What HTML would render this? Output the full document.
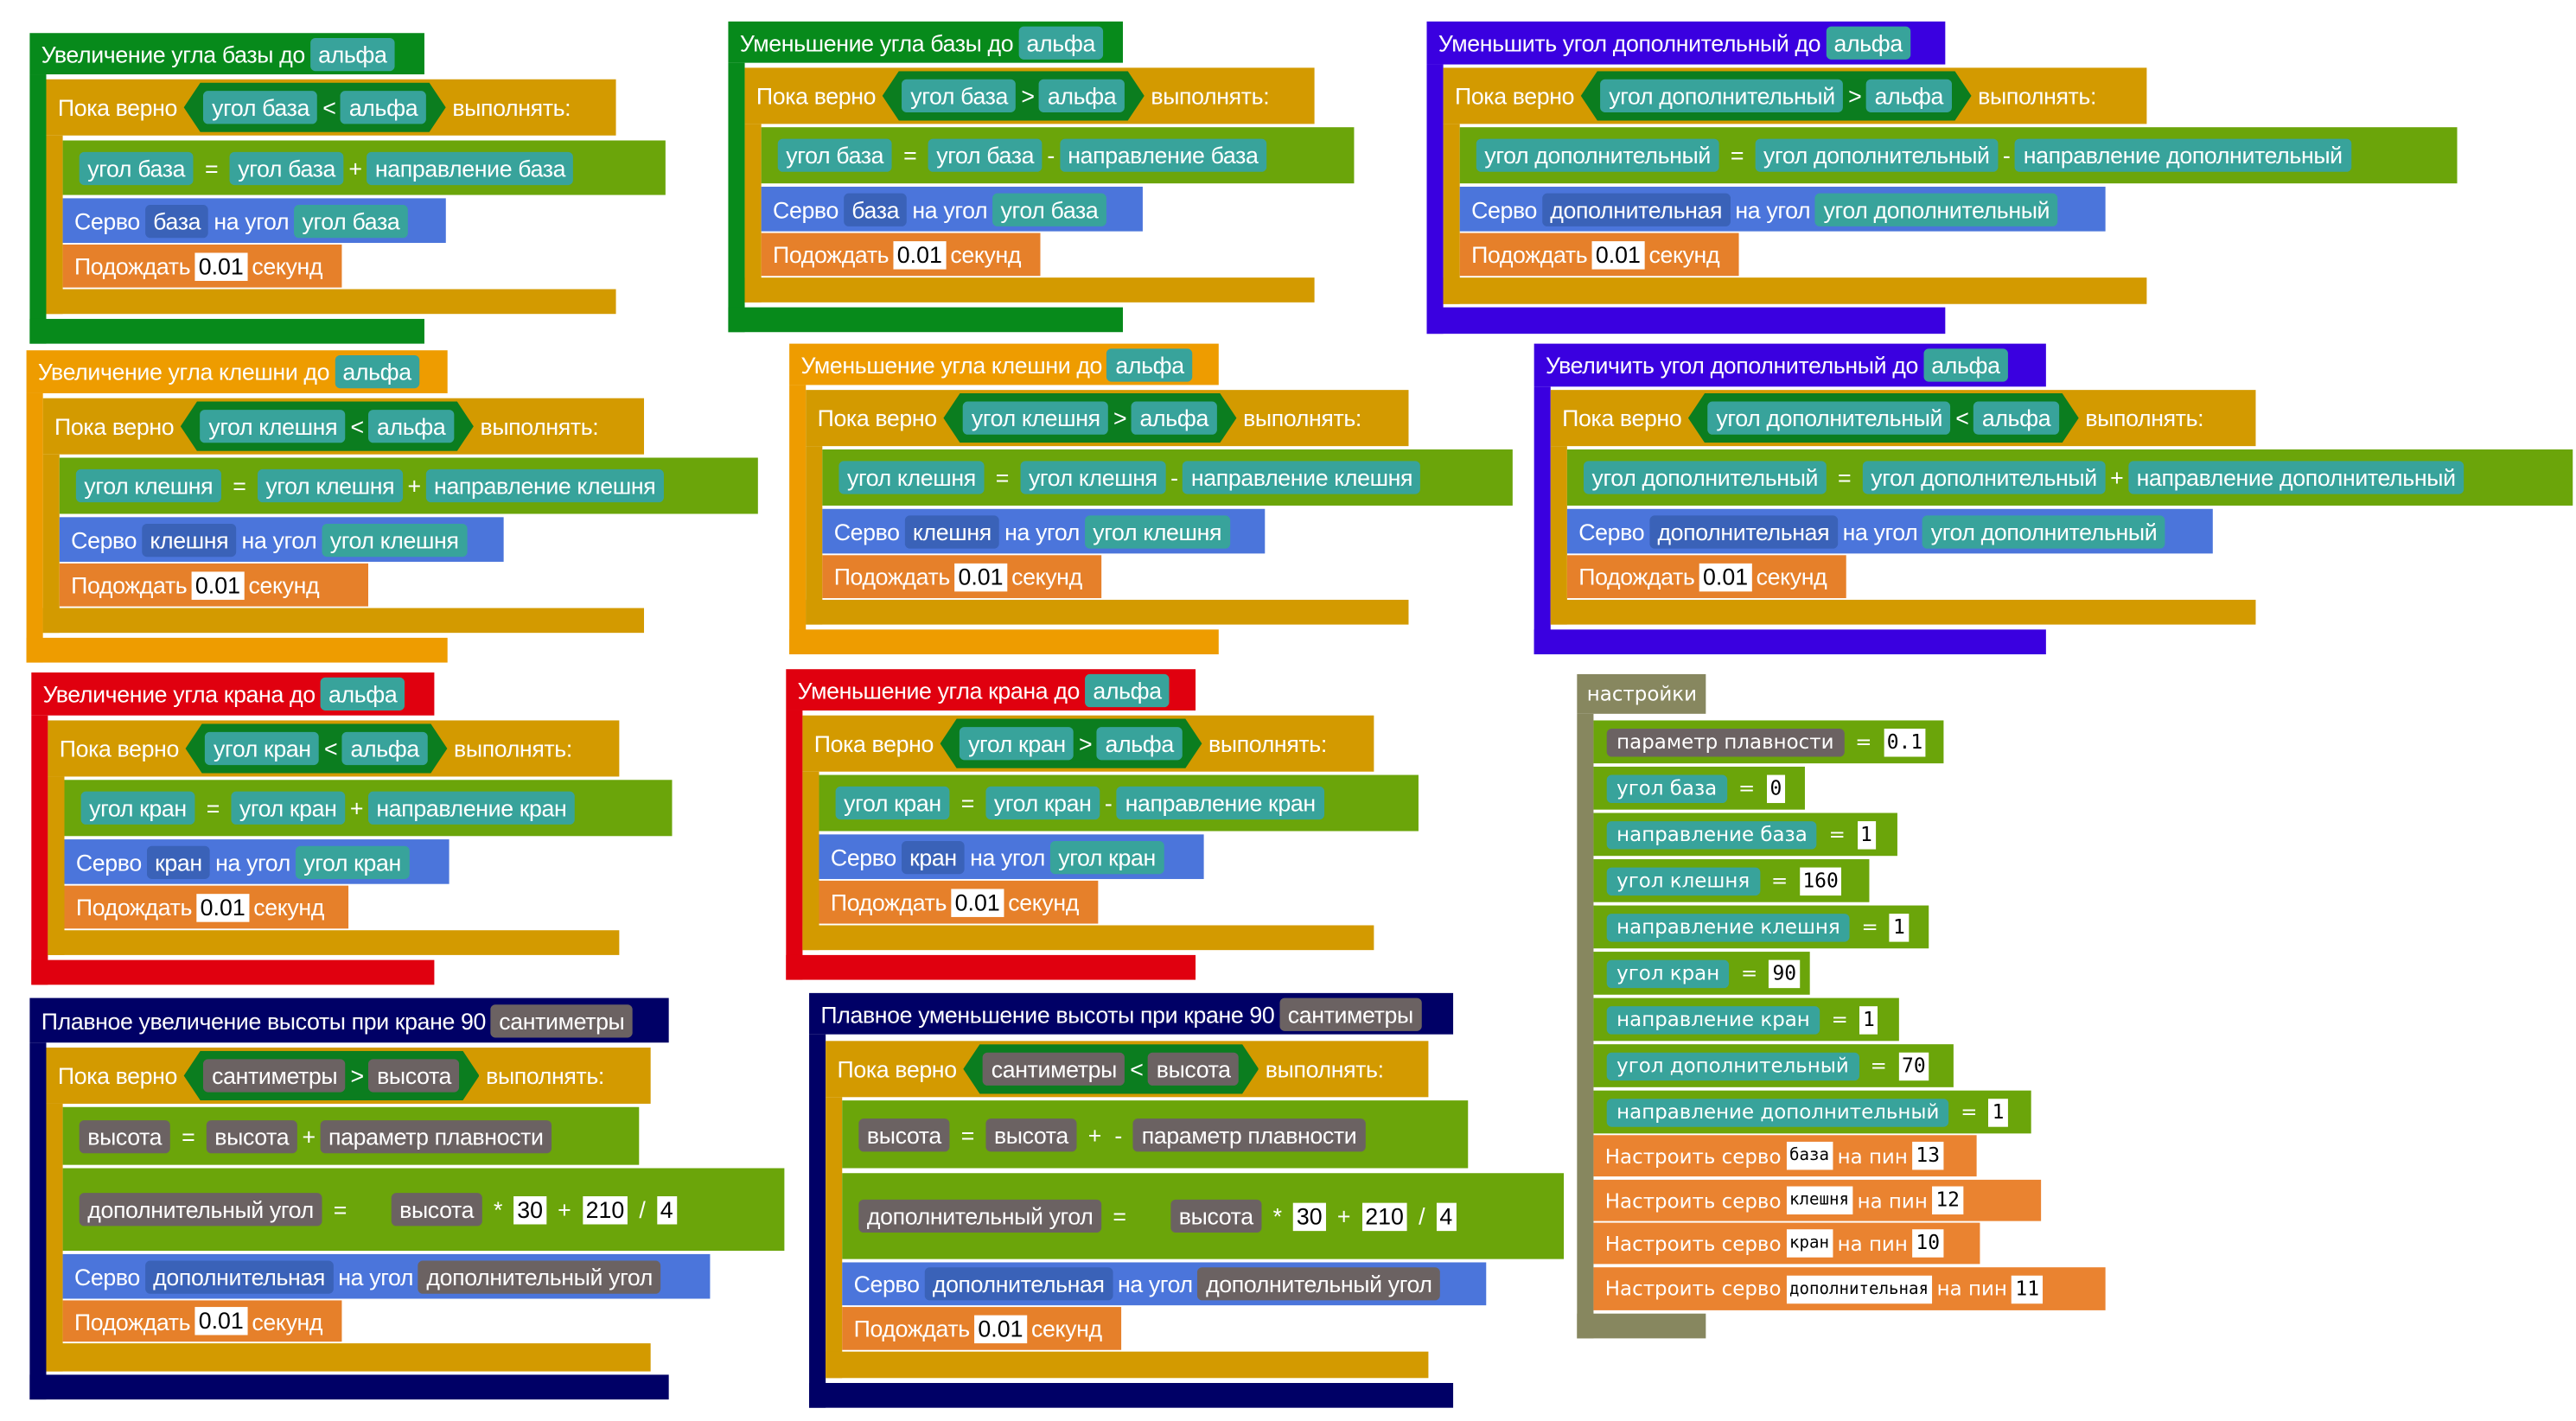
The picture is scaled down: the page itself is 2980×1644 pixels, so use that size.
<!DOCTYPE html>
<html><head><meta charset="utf-8"><style>
html,body{margin:0;padding:0;background:#fff;}
body{width:2980px;height:1644px;overflow:hidden;position:relative;}
#w{position:absolute;left:0;top:0;width:1560px;height:860px;transform:scale(1.9103,1.9116);transform-origin:0 0;}
.r{position:absolute;}
.b{position:absolute;display:flex;align-items:center;color:#fff;font:14px "Liberation Sans",sans-serif;letter-spacing:-0.2px;white-space:nowrap;padding-left:7px;box-sizing:border-box;}
.c{display:inline-block;height:20px;line-height:20px;padding:0 5px;border-radius:3px;margin:0 3px;}
.t{background:#38a39b}.g{background:#6b6262}.sb{background:#3a62b8}
.v{display:inline-block;background:#fff;color:#000;height:17px;line-height:17px;padding:0 2px;margin:0 3px;letter-spacing:0;}
.hex{display:flex;align-items:center;background:#0b7d1f;height:30px;padding:0 9px;margin:0 4px;clip-path:polygon(10px 0,calc(100% - 10px) 0,100% 50%,calc(100% - 10px) 100%,10px 100%,0 50%);}
.o{margin:0 4px}
.hg{background:#078a1b}.ho{background:#ee9c00}.hr{background:#e0000f}.hn{background:#000066}.hp{background:#3a00e0}
.L{background:#d39a00}.S{background:#6ba50a}.B{background:#4b75db}.W{background:#e6802a}
.st .b{font:12px "DejaVu Sans",sans-serif;letter-spacing:0;}
.st .c{height:17px;line-height:17px;padding:0 6px;}
.st .v{font-family:"DejaVu Sans Mono",monospace;font-size:12px;}
.st .v.s{font-size:10px;}
</style></head><body><div id="w">

<!-- B1 -->
<div class="r hg" style="left:18px;top:45px;width:10px;height:163px"></div>
<div class="r hg" style="left:18px;top:193px;width:239px;height:15px"></div>
<div class="b hg" style="left:18px;top:20px;width:239px;height:25px">Увеличение угла базы до<span class="c t">альфа</span></div>
<div class="r L" style="left:28px;top:82px;width:10px;height:108px"></div>
<div class="r L" style="left:28px;top:175px;width:345px;height:15px"></div>
<div class="b L" style="left:28px;top:48px;width:345px;height:34px">Пока верно<span class="hex"><span class="c t">угол база</span>&lt;<span class="c t">альфа</span></span>выполнять:</div>
<div class="b S" style="left:38px;top:85px;width:365px;height:33px"><span class="c t">угол база</span><span class="o">=</span><span class="c t">угол база</span>+<span class="c t">направление база</span></div>
<div class="b B" style="left:38px;top:120px;width:232px;height:27px">Серво<span class="c sb">база</span>на угол<span class="c t">угол база</span></div>
<div class="b W" style="left:38px;top:148px;width:169px;height:26px">Подождать<span class="v">0.01</span>секунд</div>

<!-- B2 -->
<div class="r ho" style="left:16px;top:238px;width:10px;height:163px"></div>
<div class="r ho" style="left:16px;top:386px;width:255px;height:15px"></div>
<div class="b ho" style="left:16px;top:212px;width:255px;height:26px">Увеличение угла клешни до<span class="c t">альфа</span></div>
<div class="r L" style="left:26px;top:275px;width:10px;height:108px"></div>
<div class="r L" style="left:26px;top:368px;width:364px;height:15px"></div>
<div class="b L" style="left:26px;top:241px;width:364px;height:34px">Пока верно<span class="hex"><span class="c t">угол клешня</span>&lt;<span class="c t">альфа</span></span>выполнять:</div>
<div class="b S" style="left:36px;top:277px;width:423px;height:34px"><span class="c t">угол клешня</span><span class="o">=</span><span class="c t">угол клешня</span>+<span class="c t">направление клешня</span></div>
<div class="b B" style="left:36px;top:313px;width:269px;height:27px">Серво<span class="c sb">клешня</span>на угол<span class="c t">угол клешня</span></div>
<div class="b W" style="left:36px;top:341px;width:187px;height:26px">Подождать<span class="v">0.01</span>секунд</div>

<!-- B3 -->
<div class="r hr" style="left:19px;top:433px;width:10px;height:163px"></div>
<div class="r hr" style="left:19px;top:581px;width:244px;height:15px"></div>
<div class="b hr" style="left:19px;top:407px;width:244px;height:26px">Увеличение угла крана до<span class="c t">альфа</span></div>
<div class="r L" style="left:29px;top:470px;width:10px;height:108px"></div>
<div class="r L" style="left:29px;top:563px;width:346px;height:15px"></div>
<div class="b L" style="left:29px;top:436px;width:346px;height:34px">Пока верно<span class="hex"><span class="c t">угол кран</span>&lt;<span class="c t">альфа</span></span>выполнять:</div>
<div class="b S" style="left:39px;top:472px;width:368px;height:34px"><span class="c t">угол кран</span><span class="o">=</span><span class="c t">угол кран</span>+<span class="c t">направление кран</span></div>
<div class="b B" style="left:39px;top:508px;width:233px;height:27px">Серво<span class="c sb">кран</span>на угол<span class="c t">угол кран</span></div>
<div class="b W" style="left:39px;top:536px;width:172px;height:26px">Подождать<span class="v">0.01</span>секунд</div>

<!-- B4 -->
<div class="r hn" style="left:18px;top:631px;width:10px;height:216px"></div>
<div class="r hn" style="left:18px;top:832px;width:387px;height:15px"></div>
<div class="b hn" style="left:18px;top:604px;width:387px;height:27px">Плавное увеличение высоты при кране 90<span class="c g">сантиметры</span></div>
<div class="r L" style="left:28px;top:668px;width:10px;height:162px"></div>
<div class="r L" style="left:28px;top:813px;width:366px;height:17px"></div>
<div class="b L" style="left:28px;top:634px;width:366px;height:34px">Пока верно<span class="hex"><span class="c g">сантиметры</span>&gt;<span class="c g">высота</span></span>выполнять:</div>
<div class="b S" style="left:38px;top:670px;width:349px;height:35px"><span class="c g">высота</span><span class="o">=</span><span class="c g">высота</span>+<span class="c g">параметр плавности</span></div>
<div class="b S" style="left:38px;top:707px;width:437px;height:50px"><span class="c g">дополнительный угол</span><span class="o">=</span><span style="width:20px"></span><span class="c g">высота</span><span class="o">*</span><span class="v">30</span><span class="o">+</span><span class="v">210</span><span class="o">/</span><span class="v">4</span></div>
<div class="b B" style="left:38px;top:759px;width:392px;height:27px">Серво<span class="c sb">дополнительная</span>на угол<span class="c g">дополнительный угол</span></div>
<div class="b W" style="left:38px;top:787px;width:169px;height:25px">Подождать<span class="v">0.01</span>секунд</div>

<!-- B5 -->
<div class="r hg" style="left:441px;top:38px;width:10px;height:163px"></div>
<div class="r hg" style="left:441px;top:186px;width:239px;height:15px"></div>
<div class="b hg" style="left:441px;top:13px;width:239px;height:25px">Уменьшение угла базы до<span class="c t">альфа</span></div>
<div class="r L" style="left:451px;top:75px;width:10px;height:108px"></div>
<div class="r L" style="left:451px;top:168px;width:345px;height:15px"></div>
<div class="b L" style="left:451px;top:41px;width:345px;height:34px">Пока верно<span class="hex"><span class="c t">угол база</span>&gt;<span class="c t">альфа</span></span>выполнять:</div>
<div class="b S" style="left:461px;top:77px;width:359px;height:34px"><span class="c t">угол база</span><span class="o">=</span><span class="c t">угол база</span>-<span class="c t">направление база</span></div>
<div class="b B" style="left:461px;top:113px;width:231px;height:27px">Серво<span class="c sb">база</span>на угол<span class="c t">угол база</span></div>
<div class="b W" style="left:461px;top:141px;width:169px;height:26px">Подождать<span class="v">0.01</span>секунд</div>

<!-- B6 -->
<div class="r ho" style="left:478px;top:233px;width:10px;height:163px"></div>
<div class="r ho" style="left:478px;top:381px;width:260px;height:15px"></div>
<div class="b ho" style="left:478px;top:208px;width:260px;height:25px">Уменьшение угла клешни до<span class="c t">альфа</span></div>
<div class="r L" style="left:488px;top:270px;width:10px;height:108px"></div>
<div class="r L" style="left:488px;top:363px;width:365px;height:15px"></div>
<div class="b L" style="left:488px;top:236px;width:365px;height:34px">Пока верно<span class="hex"><span class="c t">угол клешня</span>&gt;<span class="c t">альфа</span></span>выполнять:</div>
<div class="b S" style="left:498px;top:272px;width:418px;height:34px"><span class="c t">угол клешня</span><span class="o">=</span><span class="c t">угол клешня</span>-<span class="c t">направление клешня</span></div>
<div class="b B" style="left:498px;top:308px;width:268px;height:27px">Серво<span class="c sb">клешня</span>на угол<span class="c t">угол клешня</span></div>
<div class="b W" style="left:498px;top:336px;width:169px;height:26px">Подождать<span class="v">0.01</span>секунд</div>

<!-- B7 -->
<div class="r hr" style="left:476px;top:430px;width:10px;height:163px"></div>
<div class="r hr" style="left:476px;top:578px;width:248px;height:15px"></div>
<div class="b hr" style="left:476px;top:405px;width:248px;height:25px">Уменьшение угла крана до<span class="c t">альфа</span></div>
<div class="r L" style="left:486px;top:467px;width:10px;height:108px"></div>
<div class="r L" style="left:486px;top:560px;width:346px;height:15px"></div>
<div class="b L" style="left:486px;top:433px;width:346px;height:34px">Пока верно<span class="hex"><span class="c t">угол кран</span>&gt;<span class="c t">альфа</span></span>выполнять:</div>
<div class="b S" style="left:496px;top:469px;width:363px;height:34px"><span class="c t">угол кран</span><span class="o">=</span><span class="c t">угол кран</span>-<span class="c t">направление кран</span></div>
<div class="b B" style="left:496px;top:505px;width:233px;height:27px">Серво<span class="c sb">кран</span>на угол<span class="c t">угол кран</span></div>
<div class="b W" style="left:496px;top:533px;width:169px;height:26px">Подождать<span class="v">0.01</span>секунд</div>

<!-- B8 -->
<div class="r hn" style="left:490px;top:626px;width:10px;height:226px"></div>
<div class="r hn" style="left:490px;top:837px;width:390px;height:15px"></div>
<div class="b hn" style="left:490px;top:601px;width:390px;height:25px">Плавное уменьшение высоты при кране 90<span class="c g">сантиметры</span></div>
<div class="r L" style="left:500px;top:664px;width:10px;height:170px"></div>
<div class="r L" style="left:500px;top:818px;width:365px;height:16px"></div>
<div class="b L" style="left:500px;top:630px;width:365px;height:34px">Пока верно<span class="hex"><span class="c g">сантиметры</span>&lt;<span class="c g">высота</span></span>выполнять:</div>
<div class="b S" style="left:510px;top:666px;width:379px;height:41px"><span class="c g">высота</span><span class="o">=</span><span class="c g">высота</span><span class="o">+</span><span class="o">-</span><span class="c g">параметр плавности</span></div>
<div class="b S" style="left:510px;top:710px;width:437px;height:52px"><span class="c g">дополнительный угол</span><span class="o">=</span><span style="width:20px"></span><span class="c g">высота</span><span class="o">*</span><span class="v">30</span><span class="o">+</span><span class="v">210</span><span class="o">/</span><span class="v">4</span></div>
<div class="b B" style="left:510px;top:764px;width:390px;height:26px">Серво<span class="c sb">дополнительная</span>на угол<span class="c g">дополнительный угол</span></div>
<div class="b W" style="left:510px;top:791px;width:169px;height:26px">Подождать<span class="v">0.01</span>секунд</div>

<!-- B9 -->
<div class="r hp" style="left:864px;top:39px;width:10px;height:163px"></div>
<div class="r hp" style="left:864px;top:186px;width:314px;height:16px"></div>
<div class="b hp" style="left:864px;top:13px;width:314px;height:26px">Уменьшить угол дополнительный до<span class="c t">альфа</span></div>
<div class="r L" style="left:874px;top:75px;width:10px;height:109px"></div>
<div class="r L" style="left:874px;top:168px;width:426px;height:16px"></div>
<div class="b L" style="left:874px;top:41px;width:426px;height:34px">Пока верно<span class="hex"><span class="c t">угол дополнительный</span>&gt;<span class="c t">альфа</span></span>выполнять:</div>
<div class="b S" style="left:884px;top:77px;width:604px;height:34px"><span class="c t">угол дополнительный</span><span class="o">=</span><span class="c t">угол дополнительный</span>-<span class="c t">направление дополнительный</span></div>
<div class="b B" style="left:884px;top:113px;width:391px;height:27px">Серво<span class="c sb">дополнительная</span>на угол<span class="c t">угол дополнительный</span></div>
<div class="b W" style="left:884px;top:141px;width:169px;height:26px">Подождать<span class="v">0.01</span>секунд</div>

<!-- B10 -->
<div class="r hp" style="left:929px;top:234px;width:10px;height:162px"></div>
<div class="r hp" style="left:929px;top:381px;width:310px;height:15px"></div>
<div class="b hp" style="left:929px;top:208px;width:310px;height:26px">Увеличить угол дополнительный до<span class="c t">альфа</span></div>
<div class="r L" style="left:939px;top:270px;width:10px;height:108px"></div>
<div class="r L" style="left:939px;top:363px;width:427px;height:15px"></div>
<div class="b L" style="left:939px;top:236px;width:427px;height:34px">Пока верно<span class="hex"><span class="c t">угол дополнительный</span>&lt;<span class="c t">альфа</span></span>выполнять:</div>
<div class="b S" style="left:949px;top:272px;width:609px;height:34px"><span class="c t">угол дополнительный</span><span class="o">=</span><span class="c t">угол дополнительный</span>+<span class="c t">направление дополнительный</span></div>
<div class="b B" style="left:949px;top:308px;width:391px;height:27px">Серво<span class="c sb">дополнительная</span>на угол<span class="c t">угол дополнительный</span></div>
<div class="b W" style="left:949px;top:336px;width:169px;height:26px">Подождать<span class="v">0.01</span>секунд</div>

<!-- Settings -->
<div class="st">
<div class="r" style="left:955px;top:432px;width:10px;height:378px;background:#87875f"></div>
<div class="r" style="left:955px;top:795px;width:78px;height:15px;background:#87875f"></div>
<div class="b" style="left:955px;top:408px;width:78px;height:24px;background:#87875f;padding-left:6px">настройки</div>
<div class="b S" style="left:965px;top:436px;width:212px;height:26px;padding-left:5px"><span class="c g">параметр плавности</span><span class="o">=</span><span class="v">0.1</span></div>
<div class="b S" style="left:965px;top:464px;width:128px;height:26px;padding-left:5px"><span class="c t">угол база</span><span class="o">=</span><span class="v">0</span></div>
<div class="b S" style="left:965px;top:492px;width:184px;height:26px;padding-left:5px"><span class="c t">направление база</span><span class="o">=</span><span class="v">1</span></div>
<div class="b S" style="left:965px;top:520px;width:167px;height:26px;padding-left:5px"><span class="c t">угол клешня</span><span class="o">=</span><span class="v">160</span></div>
<div class="b S" style="left:965px;top:548px;width:203px;height:26px;padding-left:5px"><span class="c t">направление клешня</span><span class="o">=</span><span class="v">1</span></div>
<div class="b S" style="left:965px;top:576px;width:131px;height:26px;padding-left:5px"><span class="c t">угол кран</span><span class="o">=</span><span class="v">90</span></div>
<div class="b S" style="left:965px;top:604px;width:185px;height:26px;padding-left:5px"><span class="c t">направление кран</span><span class="o">=</span><span class="v">1</span></div>
<div class="b S" style="left:965px;top:632px;width:218px;height:26px;padding-left:5px"><span class="c t">угол дополнительный</span><span class="o">=</span><span class="v">70</span></div>
<div class="b S" style="left:965px;top:660px;width:265px;height:26px;padding-left:5px"><span class="c t">направление дополнительный</span><span class="o">=</span><span class="v">1</span></div>
<div class="b W" style="left:965px;top:687px;width:232px;height:25px;background:#ea8330">Настроить серво<span class="v s">база</span>на пин<span class="v">13</span></div>
<div class="b W" style="left:965px;top:714px;width:271px;height:25px;background:#ea8330">Настроить серво<span class="v s">клешня</span>на пин<span class="v">12</span></div>
<div class="b W" style="left:965px;top:740px;width:234px;height:25px;background:#ea8330">Настроить серво<span class="v s">кран</span>на пин<span class="v">10</span></div>
<div class="b W" style="left:965px;top:767px;width:310px;height:26px;background:#ea8330">Настроить серво<span class="v s">дополнительная</span>на пин<span class="v">11</span></div>
</div>

</div></body></html>
